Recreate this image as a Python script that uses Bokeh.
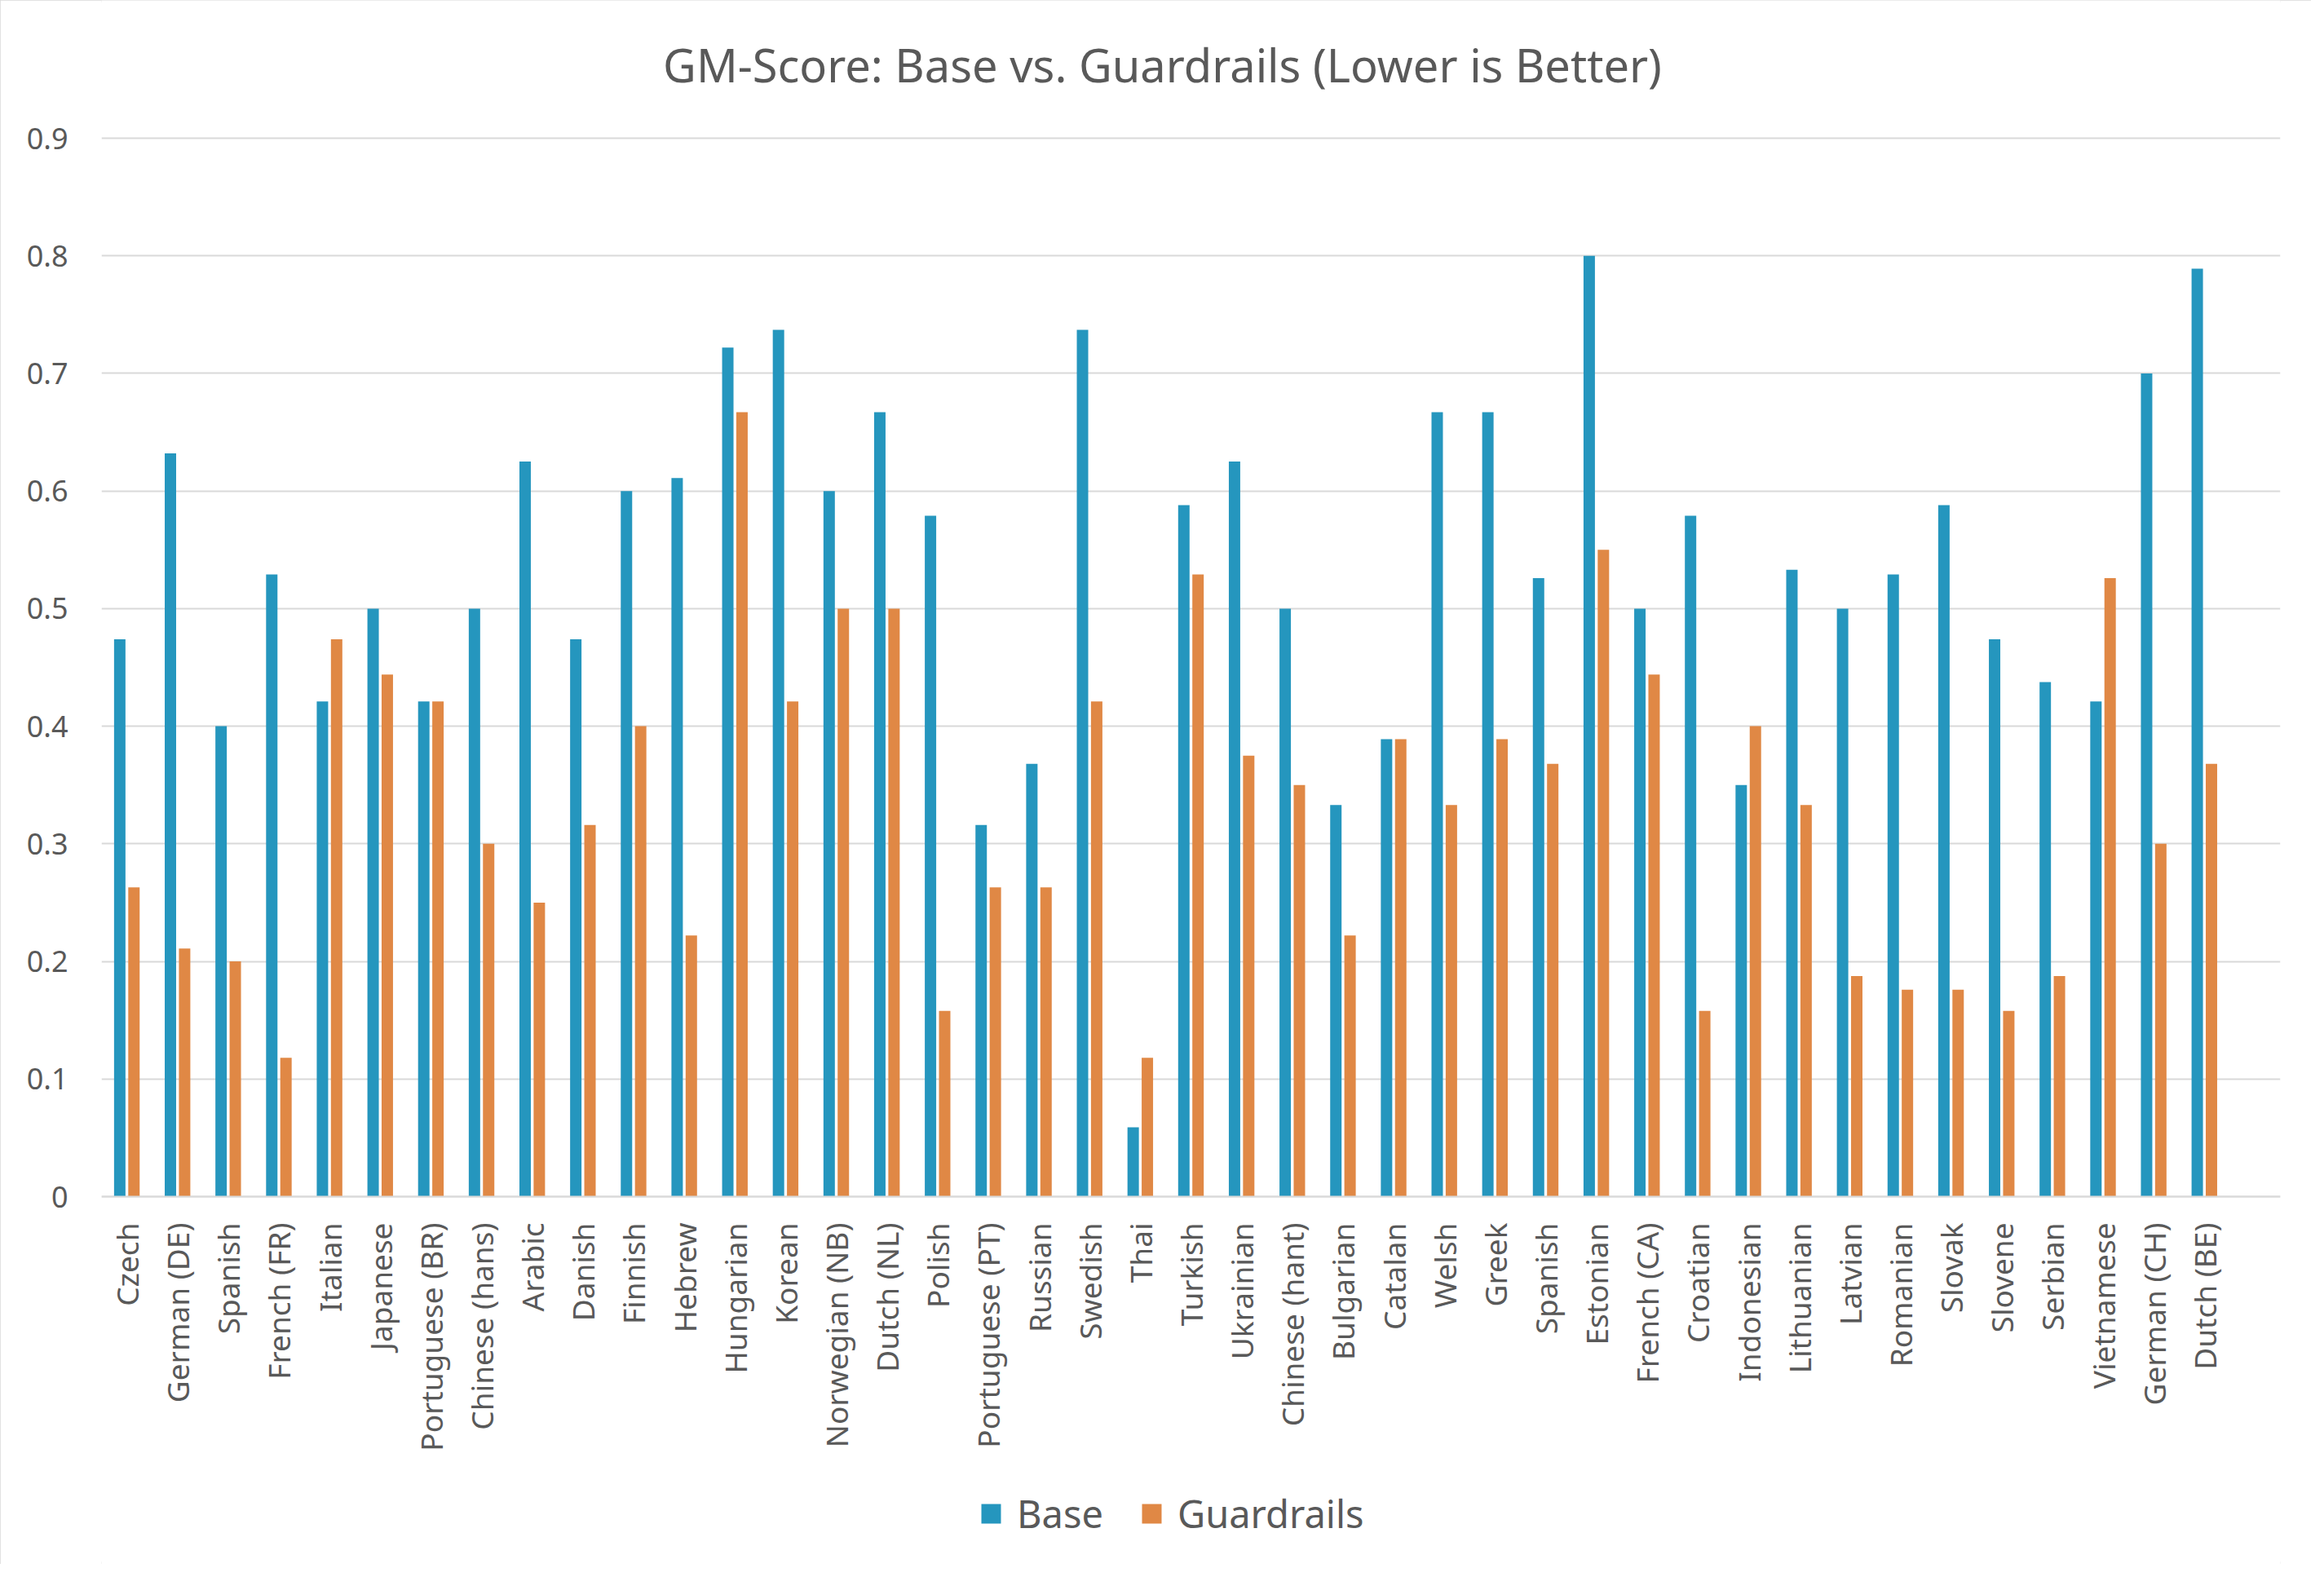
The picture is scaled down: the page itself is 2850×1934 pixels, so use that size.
from bokeh.plotting import figure
from bokeh.models import (ColumnDataSource, FixedTicker, NumeralTickFormatter,
                          Legend, LegendItem, Range1d, Label)
from bokeh.transform import dodge
from bokeh.embed import file_html
from bokeh.resources import INLINE
import math

languages = ["Czech", "German (DE)", "Spanish", "French (FR)", "Italian", "Japanese",
             "Portuguese (BR)", "Chinese (hans)", "Arabic", "Danish", "Finnish", "Hebrew",
             "Hungarian", "Korean", "Norwegian (NB)", "Dutch (NL)", "Polish", "Portuguese (PT)",
             "Russian", "Swedish", "Thai", "Turkish", "Ukrainian", "Chinese (hant)", "Bulgarian",
             "Catalan", "Welsh", "Greek", "Spanish", "Estonian", "French (CA)", "Croatian",
             "Indonesian", "Lithuanian", "Latvian", "Romanian", "Slovak", "Slovene", "Serbian",
             "Vietnamese", "German (CH)", "Dutch (BE)"]

base = [0.474, 0.632, 0.400, 0.529, 0.421, 0.500, 0.421, 0.500, 0.625, 0.474, 0.600, 0.611,
        0.722, 0.737, 0.600, 0.667, 0.579, 0.316, 0.368, 0.737, 0.059, 0.588, 0.625, 0.500,
        0.333, 0.389, 0.667, 0.667, 0.526, 0.800, 0.500, 0.579, 0.350, 0.533, 0.500, 0.529,
        0.588, 0.474, 0.4375, 0.421, 0.700, 0.789]

guardrails = [0.263, 0.211, 0.200, 0.118, 0.474, 0.444, 0.421, 0.300, 0.250, 0.316, 0.400, 0.222,
              0.667, 0.421, 0.500, 0.500, 0.158, 0.263, 0.263, 0.421, 0.118, 0.529, 0.375, 0.350,
              0.222, 0.389, 0.333, 0.389, 0.368, 0.550, 0.444, 0.158, 0.400, 0.333, 0.1875, 0.176,
              0.176, 0.158, 0.1875, 0.526, 0.300, 0.368]

y_ticks = [0, 0.1, 0.2, 0.3, 0.4, 0.5, 0.6, 0.7, 0.8, 0.9]
series_names = ["Base", "Guardrails"]
series_colors = ["#2596BE", "#E08845"]
title_text = "GM-Score: Base vs. Guardrails (Lower is Better)"

FONT = "Noto Sans"
TEXT = "#595959"
GRID = "#d9d9d9"

# layout (pixels)
W, H = 2834, 1918
LEFT, RIGHT = 124, 38
Y_TOP_PX, Y_ZERO_PX = 169, 1467          # pixel rows of the top tick and of zero
ymax = y_ticks[-1]
ppu = (Y_ZERO_PX - Y_TOP_PX) / ymax
y_end = ymax + Y_TOP_PX / ppu
y_start = -(H - Y_ZERO_PX) / ppu

idx = list(range(len(languages)))
src = ColumnDataSource(dict(x=idx, base=base, guard=guardrails))

p = figure(width=W, height=H, output_backend="svg", toolbar_location=None,
           x_range=Range1d(-0.5, len(languages) + 0.5), y_range=Range1d(y_start, y_end),
           min_border_left=LEFT, min_border_right=RIGHT, min_border_top=0, min_border_bottom=0)
p.outline_line_color = None
p.background_fill_color = "white"
p.border_fill_color = "white"
p.styles = {"outline": "3px solid #d9d9d9", "outline-offset": "-3px"}

bw = 0.225
r1 = p.vbar(x=dodge("x", -0.14, range=p.x_range), top="base", width=bw, source=src,
            fill_color=series_colors[0], line_color=None)
r2 = p.vbar(x=dodge("x", 0.14, range=p.x_range), top="guard", width=bw, source=src,
            fill_color=series_colors[1], line_color=None)

# title, centred over the whole chart
title = Label(x=1425 - LEFT, y=H - 78, x_units="screen", y_units="screen", text=title_text,
              text_align="center", text_baseline="middle", text_font=FONT,
              text_font_size="56px", text_color=TEXT)
p.add_layout(title)

# x axis sits at y = 0
xa = p.xaxis[0]
xa.fixed_location = 0
xa.ticker = FixedTicker(ticks=idx)
xa.major_label_overrides = {i: name for i, name in zip(idx, languages)}
xa.major_label_orientation = math.pi / 2
xa.major_label_text_font = FONT
xa.major_label_text_font_size = "37px"
xa.major_label_text_color = TEXT
xa.major_label_standoff = 26
xa.major_tick_line_color = None
xa.minor_tick_line_color = None
xa.axis_line_color = GRID
xa.axis_line_width = 2

# y axis
ya = p.yaxis[0]
ya.ticker = FixedTicker(ticks=y_ticks)
ya.formatter = NumeralTickFormatter(format="0.[0]")
ya.major_label_text_font = FONT
ya.major_label_text_font_size = "36px"
ya.major_label_text_color = TEXT
ya.major_label_standoff = 35
ya.major_tick_line_color = None
ya.minor_tick_line_color = None
ya.axis_line_color = None

p.xgrid.grid_line_color = None
p.ygrid.grid_line_color = GRID
p.ygrid.grid_line_width = 2

legend = Legend(items=[LegendItem(label=series_names[0], renderers=[r1]),
                       LegendItem(label=series_names[1], renderers=[r2])],
                orientation="horizontal", location=(1076, 30))
legend.label_text_font = FONT
legend.label_text_font_size = "47px"
legend.label_text_color = TEXT
legend.glyph_width = 30
legend.glyph_height = 30
legend.label_standoff = 17
legend.spacing = 44
legend.padding = 0
legend.margin = 0
legend.border_line_color = None
legend.background_fill_alpha = 0
p.add_layout(legend)

open("out.html", "w").write(file_html(p, INLINE))
